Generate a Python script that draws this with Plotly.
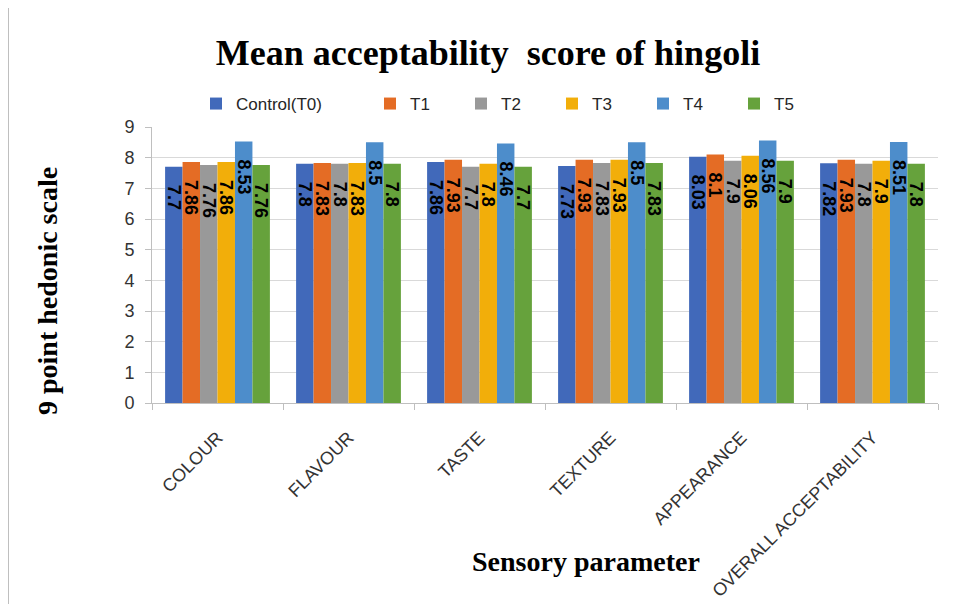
import plotly.graph_objects as go

categories = ["COLOUR", "FLAVOUR", "TASTE", "TEXTURE", "APPEARANCE", "OVERALL ACCEPTABILITY"]
series_names = ["Control(T0)", "T1", "T2", "T3", "T4", "T5"]
control_t0 = [7.7, 7.8, 7.86, 7.73, 8.03, 7.82]
t1 = [7.86, 7.83, 7.93, 7.93, 8.1, 7.93]
t2 = [7.76, 7.8, 7.7, 7.83, 7.9, 7.8]
t3 = [7.86, 7.83, 7.8, 7.93, 8.06, 7.9]
t4 = [8.53, 8.5, 8.46, 8.5, 8.56, 8.51]
t5 = [7.76, 7.8, 7.7, 7.83, 7.9, 7.8]
y_ticks = [0, 1, 2, 3, 4, 5, 6, 7, 8, 9]

series_values = [control_t0, t1, t2, t3, t4, t5]
colors = ["#4169BA", "#E46C25", "#999999", "#F2AE0A", "#4D8DCB", "#66A23C"]

OFF = 8  # page body margin
W, H = 956 - OFF, 604 - OFF
PL, PR, PT, PB = 152, 938, 127, 403  # plot area in page coords
L, R, T, B = PL - OFF, W - (PR - OFF), PT - OFF, H - (PB - OFF)
pw = PR - PL
ph = PB - PT

fig = go.Figure()
for i, (name, vals, col) in enumerate(zip(series_names, series_values, colors)):
    fig.add_trace(go.Bar(
        x=categories, y=vals, name=name,
        marker=dict(color=col, line=dict(width=0)),
        text=["\u00a0\u00a0\u00a0" + f"{v:g}" for v in vals],
        textposition="inside", insidetextanchor="end", textangle=90,
        textfont=dict(family="Liberation Sans", size=18, color="black", weight="bold"),
        legend="legend2" if i == 0 else "legend",
    ))

def px_x(p):
    return (p - PL) / pw

def px_y(p):
    return (PB - p) / ph

fig.update_layout(
    width=W, height=H,
    margin=dict(l=L, r=R, t=T, b=B, autoexpand=False),
    paper_bgcolor="white", plot_bgcolor="white",
    barmode="group", bargap=0.2, bargroupgap=0,
    uniformtext=dict(minsize=18, mode="show"),
    title=dict(text="<b>Mean acceptability  score of hingoli</b>",
               font=dict(family="Liberation Serif", size=36, color="black"),
               x=(488 - OFF) / W, xanchor="center", y=1 - (52 - OFF) / H, yanchor="middle"),
    showlegend=True,
    legend=dict(orientation="h", x=px_x(370), y=px_y(104), xanchor="left", yanchor="middle",
                entrywidth=46, font=dict(family="Liberation Sans", size=17, color="#262626"),
                bgcolor="rgba(0,0,0,0)"),
    legend2=dict(orientation="h", x=px_x(196), y=px_y(104), xanchor="left", yanchor="middle",
                 font=dict(family="Liberation Sans", size=17, color="#262626"),
                 bgcolor="rgba(0,0,0,0)"),
    xaxis=dict(tickangle=-45, tickson="boundaries", ticks="outside", ticklen=6,
               tickcolor="#BFBFBF", showline=True, linecolor="#BFBFBF",
               ticklabelstandoff=16, automargin=False,
               tickfont=dict(family="Liberation Sans", size=18, color="#333333")),
    yaxis=dict(range=[0, 9], tickvals=y_ticks, ticks="outside", ticklen=6,
               tickcolor="#BFBFBF", showline=True, linecolor="#BFBFBF",
               gridcolor="#D9D9D9", zeroline=False, ticklabelstandoff=7, automargin=False,
               tickfont=dict(family="Liberation Sans", size=18, color="#333333")),
    annotations=[
        dict(text="<b>Sensory parameter</b>", xref="paper", yref="paper",
             x=px_x(586), y=px_y(561), xanchor="center", yanchor="middle", showarrow=False,
             font=dict(family="Liberation Serif", size=28, color="black")),
        dict(text="<b>9 point hedonic scale</b>", xref="paper", yref="paper", textangle=-90,
             x=px_x(47), y=px_y(291), xanchor="center", yanchor="middle", showarrow=False,
             font=dict(family="Liberation Serif", size=28, color="black")),
    ],
    shapes=[dict(type="line", xref="paper", yref="paper", x0=px_x(8.5), x1=px_x(8.5),
                 y0=px_y(0), y1=px_y(604), line=dict(color="#BFBFBF", width=1))],
)

fig.write_html("out.html")
